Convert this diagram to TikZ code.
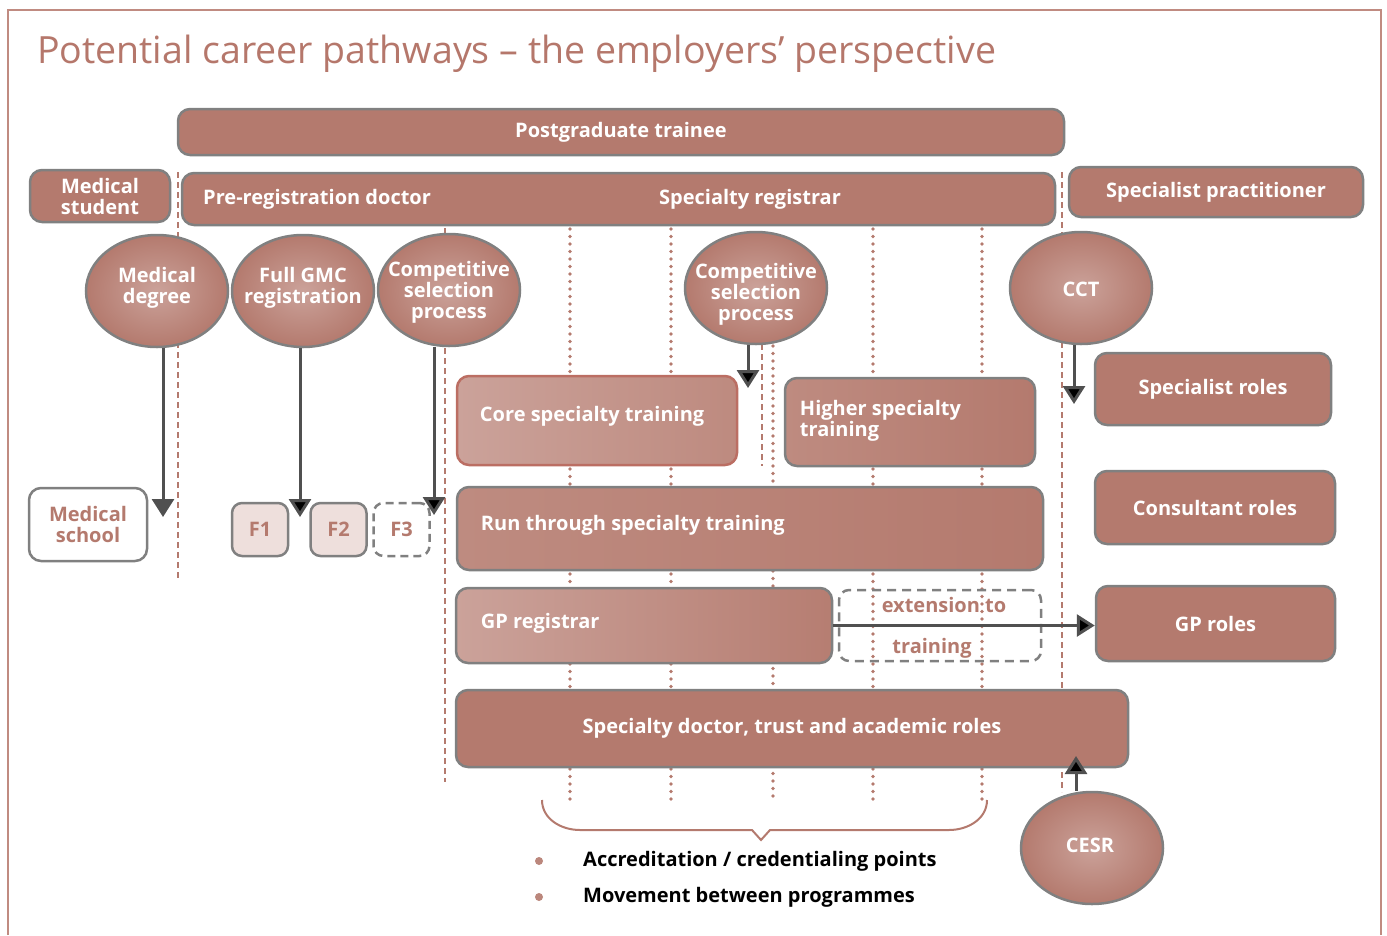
\documentclass[tikz,border=0pt]{standalone}
\usepackage{fontspec}
\setmainfont{Open Sans}
\usepackage{xcolor}
\usepackage{tikz}
\usetikzlibrary{shapes.geometric, arrows.meta, positioning, calc}

\definecolor{rose}{HTML}{B47A6E}
\definecolor{roselight}{HTML}{CBA29A}
\definecolor{rosemid}{HTML}{BE8B80}
\definecolor{rosepale}{HTML}{EEDFDC}
\definecolor{rosetitle}{HTML}{B5776B}
\definecolor{edgegray}{HTML}{808080}
\definecolor{arrowgray}{HTML}{505050}

\tikzset{
  boxfont/.style={font=\bfseries\fontsize{20}{21}\selectfont},
  rolebox/.style={draw=edgegray, line width=2.5pt, rounded corners=12pt, fill=rose,
    text=white, boxfont, align=center, inner sep=0pt},
  trainbox/.style={draw=edgegray, line width=2.5pt, rounded corners=12pt,
    text=white, boxfont, inner sep=0pt},
  milestone/.style={ellipse, draw=edgegray, line width=2.5pt, inner color=roselight,
    outer color=rose, inner sep=0pt, minimum width=142pt, minimum height=112pt},
  fbox/.style={draw=edgegray, line width=2.5pt, rounded corners=10pt, fill=rosepale,
    text=rose, boxfont, minimum width=56pt, minimum height=53pt, inner sep=0pt},
  label/.style={text=white, boxfont, inner sep=0pt},
  flowarrow/.style={draw=arrowgray, line width=3pt,
    -{Triangle[width=22pt,length=18pt,fill=black]}},
  stagedash/.style={draw=rose, line width=2pt, dash pattern=on 6pt off 4pt},
  pointdots/.style={draw=rose, line width=3.6pt, line cap=round, dash pattern=on 0pt off 7.5pt},
}

\begin{document}
\begin{tikzpicture}[x=1pt, y=-1pt]
  \useasboundingbox (0,0) rectangle (1387,935);

  % Rahmen und Titel
  \draw[rosetitle!85, line width=2pt] (8,935) |- (1381,10) -- (1381,935);
  \node[anchor=base west, text=rosetitle, font=\fontsize{37.5}{40}\selectfont, inner sep=0pt]
    (title) at (37,63) {Potential career pathways -- the employers’ perspective};

  % Stufengrenzen (gestrichelt)
  \draw[stagedash] (178,172) -- (178,580);
  \draw[stagedash] (445,228) -- (445,782);
  \draw[stagedash] (762,344) -- (762,466);
  \draw[stagedash] (1062,172) -- (1062,792);

  % Akkreditierungspunkte (gepunktet)
  \foreach \px in {570,671,873,982}
    \draw[pointdots] (\px,229) -- (\px,800);
  \draw[pointdots] (773,346) -- (773,800);

  % obere Balken
  \node[rolebox, minimum width=886pt, minimum height=46pt] (pgt) at (621,132) {Postgraduate trainee};
  \node[rolebox, minimum width=140pt, minimum height=52pt] (student) at (100,196) {Medical\\student};
  \node[rolebox, minimum width=873pt, minimum height=52pt] (doctor) at (618.5,199) {};
  \node[label, anchor=west] (prereg) at (203,199) {Pre-registration doctor};
  \node[label] (registrar) at (750,199) {Specialty registrar};
  \node[rolebox, minimum width=294pt, minimum height=50pt] (practitioner) at (1216,192) {Specialist practitioner};

  % Meilensteine
  \node[milestone] (degree) at (157,291) {};
  \node[milestone] (gmc) at (303,291) {};
  \node[milestone] (select1) at (449,290) {};
  \node[milestone] (select2) at (756,288) {};
  \node[milestone] (cct) at (1081,288) {};
  \node[milestone] (cesr) at (1092,848) {};
  \node[label, align=center] (degreeText) at (157,288) {Medical\\degree};
  \node[label, align=center] (gmcText) at (303,288) {Full GMC\\registration};
  \node[label, align=center] (select1Text) at (449,292) {Competitive\\selection\\process};
  \node[label, align=center] (select2Text) at (756,294) {Competitive\\selection\\process};
  \node[label] (cctText) at (1081,289) {CCT};
  \node[label] (cesrText) at (1090,845) {CESR};

  % Grundausbildung
  \node[rolebox, fill=white, text=rose, minimum width=118pt, minimum height=73pt] (school) at (88,524.5) {Medical\\school};
  \node[fbox] (f1) at (260,529.5) {F1};
  \node[fbox] (f2) at (338.5,529.5) {F2};
  \node[fbox, fill=white, dash pattern=on 8pt off 5pt] (f3) at (401.5,529.5) {F3};

  % Weiterbildung
  \node[trainbox, draw=rose!90!red, left color=roselight, right color=rosemid!95!rose,
    minimum width=280pt, minimum height=89pt] (core) at (597,420.5) {};
  \node[label, anchor=west] (coreText) at ($(core.west)+(24,-4)$) {Core specialty training};
  \node[trainbox, left color=rosemid, right color=rose,
    minimum width=250pt, minimum height=88pt] (higher) at (910,422) {};
  \node[label, anchor=west, align=left] (higherText) at ($(higher.west)+(16,-1)$) {Higher specialty\\training};
  \node[trainbox, left color=rosemid, middle color=roselight, right color=rose,
    minimum width=586pt, minimum height=83pt] (runthrough) at (750,528.5) {};
  \node[label, anchor=west] (runText) at ($(runthrough.west)+(25,-3)$) {Run through specialty training};
  \node[trainbox, left color=roselight, right color=rose!80!rosemid,
    minimum width=376pt, minimum height=75pt] (gpreg) at (644,625.5) {};
  \node[label, anchor=west] (gpregText) at ($(gpreg.west)+(26,-2)$) {GP registrar};
  \node[draw=edgegray, line width=2.5pt, dash pattern=on 9pt off 6pt, rounded corners=10pt,
    minimum width=202pt, minimum height=71pt] (extension) at (940,625.5) {};
  \node[boxfont, text=rose, inner sep=0pt] (ext1) at (944,605) {extension to};
  \node[boxfont, text=rose, inner sep=0pt] (ext2) at (932,648) {training};
  \node[rolebox, minimum width=672pt, minimum height=77pt] (staff) at (792,728.5) {Specialty doctor, trust and academic roles};

  % Rollen
  \node[rolebox, minimum width=236pt, minimum height=72pt] (specroles) at (1213,389) {Specialist roles};
  \node[rolebox, minimum width=240pt, minimum height=73pt] (consroles) at (1215,507.5) {Consultant roles};
  \node[rolebox, minimum width=239pt, minimum height=75pt] (gproles) at (1215.5,623.5) {GP roles};

  % Pfeile
  \coordinate (degreeEnd) at (163,517);
  \coordinate (gmcEnd) at (300,517);
  \coordinate (select1End) at (434,515);
  \coordinate (select2End) at (748,388);
  \coordinate (cctEnd) at (1074,404);
  \coordinate (cesrEnd) at (1076,756);
  \draw[flowarrow, -{Triangle[width=22pt,length=18pt]}] (degreeEnd |- degree.south) -- (degreeEnd);
  \draw[flowarrow] (gmcEnd |- gmc.south) -- (gmcEnd);
  \draw[flowarrow] (select1End |- select1.south) -- (select1End);
  \draw[flowarrow] (select2End |- select2.south) -- (select2End);
  \draw[flowarrow] (cctEnd |- cct.south) -- (cctEnd);
  \draw[flowarrow] (cesrEnd |- cesr.north) -- (cesrEnd);
  \draw[flowarrow] (gpreg.east) -- (gpreg.east -| gproles.west);

  % Klammer und Legende
  \draw[rose, line width=2pt] (542,800) to[out=-90,in=180] (580,830) -- (752,830) -- (761,840)
    -- (770,830) -- (949,830) to[out=0,in=-90] (987,800);
  \fill[rose!90] (539,861) circle (4);
  \fill[rose!90] (539,897) circle (4);
  \node[boxfont, anchor=west, inner sep=0pt] (legend1) at (583,861) {Accreditation / credentialing points};
  \node[boxfont, anchor=west, inner sep=0pt] (legend2) at (583,897) {Movement between programmes};
\end{tikzpicture}
\end{document}
